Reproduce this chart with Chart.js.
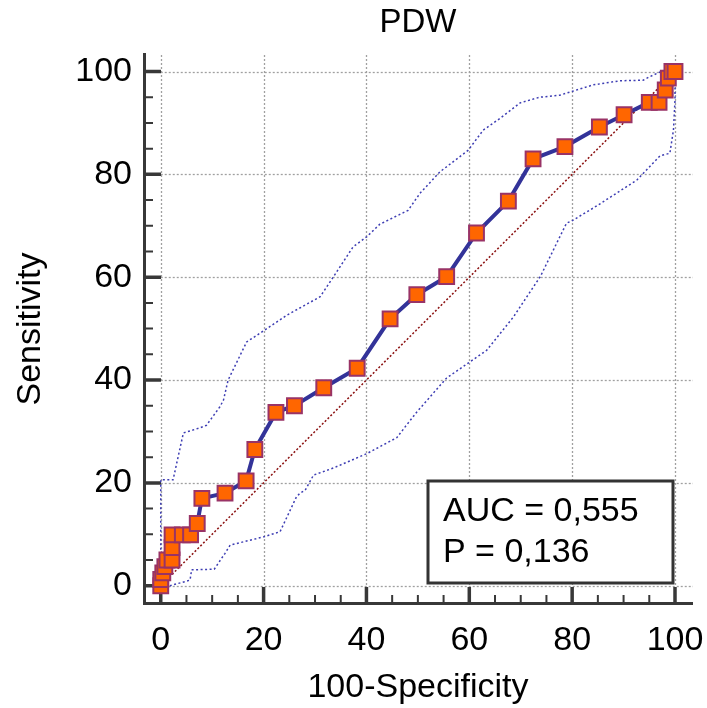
<!DOCTYPE html>
<html>
<head>
<meta charset="utf-8">
<title>PDW ROC</title>
<script src="https://cdn.jsdelivr.net/npm/chart.js@4/dist/chart.umd.min.js"></script>
<style>
  html, body { margin: 0; padding: 0; background: #fff; }
  canvas { display: block; }
</style>
</head>
<body>
<canvas id="roc" width="707" height="708"></canvas>
<script>
// ROC curve points (100-Specificity, Sensitivity)
const rocX = [0, 0, 0.4, 0.8, 1.2, 2.2, 2.2, 2.2, 4.2, 5.8, 7.1, 8.0, 12.5, 16.6, 18.3, 22.4, 26.0,
    31.7, 38.2, 44.6, 49.8, 55.6, 61.4, 67.6, 72.4, 78.6, 85.3, 90.1, 95.0, 96.9, 98.1, 98.7, 99.4, 100];
const rocY = [0, 1.2, 2.5, 3.7, 5.0, 5.0, 7.4, 9.9, 9.9, 9.9, 12.1, 17.0, 18.0, 20.4, 26.5, 33.7, 35.0,
    38.5, 42.3, 51.9, 56.6, 60.1, 68.6, 74.8, 83.0, 85.4, 89.2, 91.6, 94.0, 94.0, 96.4, 98.7, 100, 100];

// Upper confidence bound
const upX = [0, 0, 0.8, 2.4, 4.4, 7.6, 8.9, 11.5, 12.2, 13.1, 16.7, 19.3, 24.5, 31.0, 33.6, 37.4, 40.1,
    42.6, 48.1, 50.4, 54.3, 59.8, 62.7, 66.0, 69.9, 73.7, 77.6, 84.1, 89.3, 93.8, 95.1, 97.1, 100];
const upY = [0, 20.6, 20.6, 20.6, 29.7, 30.7, 31.2, 34.8, 36.1, 40.0, 47.4, 49.1, 52.6, 56.2, 60.1, 65.9, 67.9,
    70.3, 73.0, 76.3, 80.5, 84.7, 88.6, 90.9, 93.9, 95.0, 95.4, 97.4, 98.2, 98.3, 99.0, 99.9, 100];

// Lower confidence bound
const loX = [0, 1.8, 4.7, 5.7, 6.0, 10.4, 12.5, 13.5, 20.0, 23.2, 26.4, 27.1, 28.1, 29.7, 33.6, 40.1,
    45.9, 49.8, 55.6, 63.4, 68.6, 73.8, 78.9, 80.2, 85.0, 92.6, 97.1, 99.0, 99.7, 100, 100];
const loY = [0, 0, 0.8, 1.1, 3.1, 3.2, 6.3, 7.9, 9.5, 10.5, 17.3, 18.0, 18.6, 21.5, 22.9, 25.7,
    28.8, 33.8, 40.4, 45.8, 52.3, 60.1, 70.5, 71.1, 74.0, 78.9, 83.6, 84.1, 88.6, 94.4, 100];

// Reference diagonal
const diagX = [0, 100];
const diagY = [0, 100];

// Axis ticks
const majorTicks = [0, 20, 40, 60, 80, 100];
const minorTicks = [5, 10, 15, 25, 30, 35, 45, 50, 55, 65, 70, 75, 85, 90, 95];

const statLines = ['AUC = 0,555', 'P = 0,136'];

const FONT = "'Liberation Sans', Arial, sans-serif";

function pts(xs, ys) {
    return xs.map((x, i) => ({ x: x, y: ys[i] }));
}

// Gridlines, axis lines and tick marks
const axesPlugin = {
    id: 'axesPlugin',
    beforeDatasetsDraw(chart) {
        const { ctx, chartArea: a, scales: { x, y } } = chart;
        ctx.save();
        ctx.strokeStyle = '#a0a0a0';
        ctx.lineWidth = 1.3;
        ctx.setLineDash([2, 2]);
        majorTicks.forEach(v => {
            const px = Math.round(x.getPixelForValue(v)) + 0.5;
            ctx.beginPath();
            ctx.moveTo(px, a.top + 2);
            ctx.lineTo(px, y.getPixelForValue(0));
            ctx.stroke();
            const py = Math.round(y.getPixelForValue(v)) + 0.5;
            ctx.beginPath();
            ctx.moveTo(x.getPixelForValue(0), py);
            ctx.lineTo(a.right, py);
            ctx.stroke();
        });
        ctx.setLineDash([]);
        ctx.strokeStyle = '#383838';

        // axis lines
        ctx.lineWidth = 3;
        ctx.beginPath();
        ctx.moveTo(a.left + 1.5, a.top);
        ctx.lineTo(a.left + 1.5, a.bottom);
        ctx.moveTo(a.left, a.bottom - 1.5);
        ctx.lineTo(a.right, a.bottom - 1.5);
        ctx.stroke();

        // ticks
        const drawTicks = (vals, len, w) => {
            ctx.lineWidth = w;
            ctx.beginPath();
            vals.forEach(v => {
                const py = y.getPixelForValue(v);
                ctx.moveTo(a.left, py);
                ctx.lineTo(a.left + len, py);
                const px = x.getPixelForValue(v);
                ctx.moveTo(px, a.bottom);
                ctx.lineTo(px, a.bottom - len);
            });
            ctx.stroke();
        };
        drawTicks(majorTicks, 18, 3.5);
        drawTicks(minorTicks, 10, 2);
        ctx.restore();
    },
    afterDraw(chart) {
        const { ctx } = chart;
        ctx.save();
        ctx.fillStyle = '#ffffff';
        ctx.fillRect(428, 481, 245, 102);
        ctx.strokeStyle = '#333333';
        ctx.lineWidth = 3;
        ctx.strokeRect(428, 481, 245, 102);
        ctx.fillStyle = '#000';
        ctx.font = '34px ' + FONT;
        ctx.textBaseline = 'alphabetic';
        ctx.fillText(statLines[0], 443, 521);
        ctx.fillText(statLines[1], 443, 562);
        ctx.restore();
    }
};

const setTicks = (scale) => {
    scale.ticks = majorTicks.map(v => ({ value: v }));
};

new Chart(document.getElementById('roc'), {
    type: 'scatter',
    data: {
        datasets: [
            {
                label: 'ROC',
                data: pts(rocX, rocY),
                showLine: true,
                borderColor: '#333399',
                borderWidth: 4,
                pointStyle: 'rect',
                pointRadius: 10.5,
                pointBackgroundColor: '#ff6600',
                pointBorderColor: '#993366',
                pointBorderWidth: 2
            },
            {
                label: 'Upper',
                data: pts(upX, upY),
                showLine: true,
                borderColor: '#3d3db3',
                borderWidth: 1.5,
                borderDash: [2, 2.5],
                pointRadius: 0
            },
            {
                label: 'Lower',
                data: pts(loX, loY),
                showLine: true,
                borderColor: '#3d3db3',
                borderWidth: 1.5,
                borderDash: [2, 2.5],
                pointRadius: 0
            },
            {
                label: 'Diagonal',
                data: pts(diagX, diagY),
                showLine: true,
                borderColor: '#8b1010',
                borderWidth: 1.5,
                borderDash: [2, 2],
                pointRadius: 0
            }
        ]
    },
    options: {
        responsive: false,
        animation: false,
        devicePixelRatio: 1,
        layout: { padding: { top: 0, right: 14, bottom: 0, left: 0 } },
        plugins: {
            legend: { display: false },
            tooltip: { enabled: false },
            title: {
                display: true,
                text: 'PDW',
                fullSize: false,
                color: '#000',
                font: { family: FONT, size: 33, weight: 'normal' },
                padding: { top: 3, bottom: 10.4 }
            }
        },
        scales: {
            x: {
                type: 'linear',
                min: -3.45,
                max: 103.5,
                afterBuildTicks: setTicks,
                afterFit: (s) => { s.height = 103; s.paddingLeft = 0; s.paddingRight = 0; },
                grid: { display: false, drawTicks: false },
                border: { display: false },
                ticks: {
                    color: '#000',
                    padding: 15,
                    maxRotation: 0,
                    font: { family: FONT, size: 34 }
                },
                title: {
                    display: true,
                    text: '100-Specificity',
                    color: '#000',
                    font: { family: FONT, size: 34 },
                    padding: { top: 0, bottom: 0 }
                }
            },
            y: {
                type: 'linear',
                min: -3.75,
                max: 103.6,
                afterBuildTicks: setTicks,
                afterFit: (s) => { s.width = 143; s.paddingTop = 0; s.paddingBottom = 0; },
                grid: { display: false, drawTicks: false },
                border: { display: false },
                ticks: {
                    color: '#000',
                    padding: 11,
                    font: { family: FONT, size: 34 }
                },
                title: {
                    display: true,
                    text: 'Sensitivity',
                    color: '#000',
                    font: { family: FONT, size: 34 },
                    padding: { top: 10, bottom: 0 }
                }
            }
        }
    },
    plugins: [axesPlugin]
});
</script>
</body>
</html>
